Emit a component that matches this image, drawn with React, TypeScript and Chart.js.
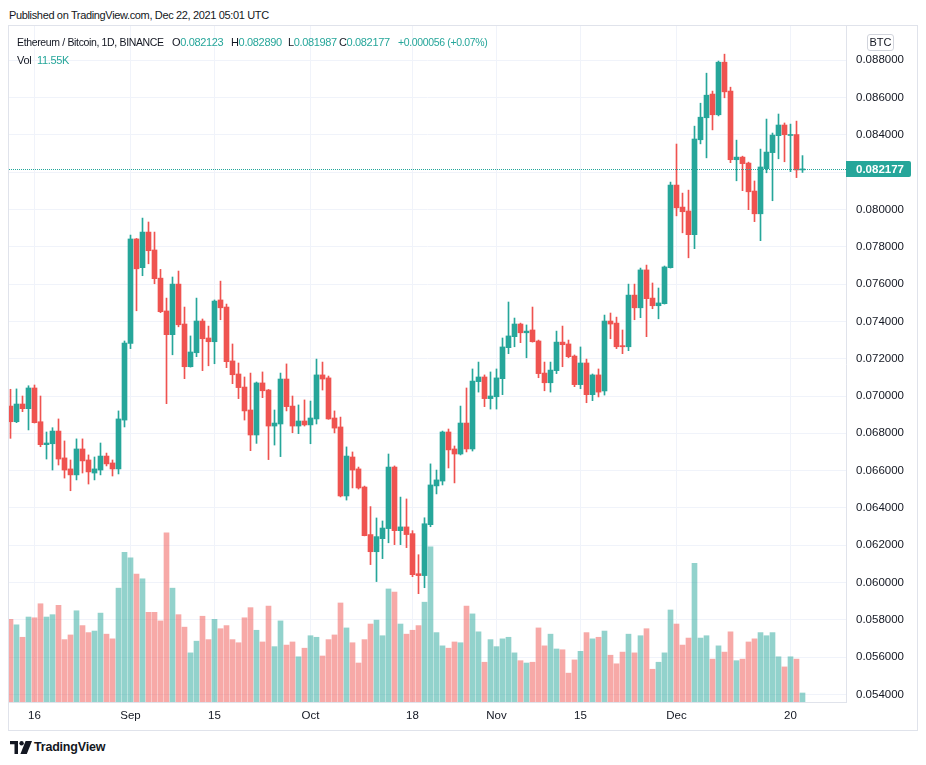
import React, { useEffect, useRef } from "react";
import { Chart, registerables } from "chart.js";
Chart.register(...registerables);

// ETH/BTC daily candles, 2021-08-12 .. 2021-12-22 (Binance)
const START_DATE = "2021-08-12";

const opens = [
  0.06946, 0.06862, 0.06957, 0.06932, 0.07043, 0.06862, 0.06739, 0.06744, 0.06812, 0.06668,
  0.06609, 0.06577, 0.06716, 0.06657, 0.06587, 0.06603, 0.06678, 0.06641, 0.06609, 0.06871,
  0.07282, 0.07842, 0.07688, 0.07879, 0.07783, 0.07632, 0.07456, 0.07329, 0.07600, 0.07386,
  0.07157, 0.07232, 0.07402, 0.07311, 0.07291, 0.07515, 0.07477, 0.07188, 0.07118, 0.07048,
  0.06925, 0.06791, 0.07070, 0.07032, 0.06839, 0.06850, 0.07091, 0.06946, 0.06839, 0.06866,
  0.06845, 0.06877, 0.07113, 0.07097, 0.06882, 0.06834, 0.06464, 0.06673, 0.06609, 0.06512,
  0.06257, 0.06165, 0.06235, 0.06289, 0.06619, 0.06278, 0.06298, 0.06262, 0.06047, 0.06037,
  0.06310, 0.06518, 0.06544, 0.06807, 0.06716, 0.06689, 0.06855, 0.06716, 0.07077, 0.07102,
  0.06986, 0.06996, 0.07093, 0.07259, 0.07318, 0.07386, 0.07339, 0.07354, 0.07295, 0.07123,
  0.07071, 0.07136, 0.07289, 0.07279, 0.07214, 0.07061, 0.07177, 0.07007, 0.07113, 0.07027,
  0.07402, 0.07391, 0.07270, 0.07264, 0.07541, 0.07473, 0.07676, 0.07525, 0.07484, 0.07495,
  0.07688, 0.08131, 0.08013, 0.07992, 0.07865, 0.08374, 0.08492, 0.08619, 0.08508, 0.08790,
  0.08635, 0.08267, 0.08281, 0.08249, 0.08099, 0.07977, 0.08219, 0.08305, 0.08396, 0.08453,
  0.08397, 0.08402, 0.082123,
];

const highs = [
  0.07036, 0.07038, 0.07000, 0.07055, 0.07059, 0.07000, 0.06807, 0.06830, 0.06877, 0.06759,
  0.06657, 0.06770, 0.06770, 0.06684, 0.06673, 0.06748, 0.06694, 0.06657, 0.06920, 0.07295,
  0.07863, 0.07845, 0.07954, 0.07933, 0.07879, 0.07679, 0.07525, 0.07638, 0.07670, 0.07477,
  0.07322, 0.07525, 0.07413, 0.07375, 0.07515, 0.07616, 0.07493, 0.07279, 0.07177, 0.07102,
  0.07123, 0.07075, 0.07129, 0.07035, 0.06925, 0.07123, 0.07172, 0.07000, 0.06952, 0.06979,
  0.06973, 0.07198, 0.07182, 0.07107, 0.06920, 0.06887, 0.06727, 0.06700, 0.06619, 0.06517,
  0.06407, 0.06346, 0.06330, 0.06689, 0.06625, 0.06458, 0.06448, 0.06278, 0.06149, 0.06347,
  0.06636, 0.06603, 0.06812, 0.06823, 0.06732, 0.06946, 0.07043, 0.07145, 0.07182, 0.07113,
  0.07129, 0.07145, 0.07311, 0.07504, 0.07418, 0.07391, 0.07381, 0.07477, 0.07300, 0.07182,
  0.07182, 0.07348, 0.07375, 0.07300, 0.07220, 0.07263, 0.07198, 0.07118, 0.07145, 0.07434,
  0.07445, 0.07423, 0.07354, 0.07600, 0.07600, 0.07686, 0.07702, 0.07606, 0.07579, 0.07697,
  0.08147, 0.08351, 0.08088, 0.08104, 0.08447, 0.08570, 0.08731, 0.08635, 0.08796, 0.08833,
  0.08656, 0.08372, 0.08286, 0.08254, 0.08153, 0.08324, 0.08485, 0.08410, 0.08512, 0.08464,
  0.08458, 0.08474, 0.08289,
];

const lows = [
  0.06773, 0.06857, 0.06916, 0.06818, 0.06855, 0.06728, 0.06662, 0.06603, 0.06630, 0.06560,
  0.06492, 0.06550, 0.06587, 0.06528, 0.06550, 0.06577, 0.06625, 0.06571, 0.06582, 0.06834,
  0.07254, 0.07457, 0.07645, 0.07709, 0.07602, 0.07447, 0.06959, 0.07221, 0.07371, 0.07093,
  0.07155, 0.07211, 0.07136, 0.07162, 0.07173, 0.07409, 0.07152, 0.07066, 0.06986, 0.06871,
  0.06707, 0.06746, 0.06991, 0.06659, 0.06737, 0.06675, 0.06920, 0.06803, 0.06798, 0.06839,
  0.06744, 0.06850, 0.07032, 0.06875, 0.06802, 0.06459, 0.06442, 0.06507, 0.06501, 0.06250,
  0.06096, 0.06005, 0.06128, 0.06213, 0.06203, 0.06203, 0.06187, 0.06031, 0.05940, 0.05972,
  0.06299, 0.06475, 0.06523, 0.06614, 0.06534, 0.06684, 0.06700, 0.06705, 0.07021, 0.06943,
  0.06930, 0.06930, 0.07007, 0.07227, 0.07264, 0.07286, 0.07205, 0.07289, 0.07098, 0.07028,
  0.07021, 0.07120, 0.07157, 0.07205, 0.07050, 0.07039, 0.06964, 0.06975, 0.06995, 0.07005,
  0.07307, 0.07254, 0.07227, 0.07243, 0.07409, 0.07420, 0.07318, 0.07468, 0.07414, 0.07493,
  0.07686, 0.07966, 0.07875, 0.07741, 0.07790, 0.08352, 0.08277, 0.08427, 0.08502, 0.08599,
  0.08251, 0.08154, 0.08101, 0.07999, 0.07935, 0.07833, 0.08197, 0.08047, 0.08272, 0.08256,
  0.08203, 0.08171, 0.081987,
];

const closes = [
  0.06862, 0.06957, 0.06932, 0.07043, 0.06857, 0.06739, 0.06748, 0.06812, 0.06662, 0.06603,
  0.06577, 0.06716, 0.06652, 0.06593, 0.06609, 0.06678, 0.06636, 0.06609, 0.06877, 0.07284,
  0.07842, 0.07682, 0.07879, 0.07779, 0.07629, 0.07452, 0.07329, 0.07600, 0.07382, 0.07157,
  0.07236, 0.07402, 0.07307, 0.07291, 0.07509, 0.07473, 0.07184, 0.07114, 0.07045, 0.06920,
  0.06791, 0.07070, 0.07028, 0.06839, 0.06855, 0.07091, 0.06943, 0.06839, 0.06866, 0.06845,
  0.06882, 0.07113, 0.07091, 0.06877, 0.06828, 0.06464, 0.06678, 0.06603, 0.06507, 0.06251,
  0.06165, 0.06246, 0.06292, 0.06619, 0.06278, 0.06298, 0.06257, 0.06042, 0.06037, 0.06315,
  0.06523, 0.06550, 0.06807, 0.06711, 0.06689, 0.06855, 0.06716, 0.07080, 0.07102, 0.06986,
  0.07000, 0.07097, 0.07263, 0.07322, 0.07386, 0.07339, 0.07348, 0.07291, 0.07120, 0.07071,
  0.07139, 0.07289, 0.07275, 0.07211, 0.07061, 0.07177, 0.07007, 0.07113, 0.07021, 0.07402,
  0.07386, 0.07264, 0.07264, 0.07541, 0.07473, 0.07676, 0.07522, 0.07484, 0.07499, 0.07692,
  0.08131, 0.08009, 0.07988, 0.07865, 0.08378, 0.08495, 0.08613, 0.08508, 0.08790, 0.08631,
  0.08267, 0.08281, 0.08246, 0.08095, 0.07977, 0.08228, 0.08308, 0.08399, 0.08453, 0.08401,
  0.08402, 0.08212, 0.082177,
];

// volume, thousands of ETH
const volumesK = [
  106, 99, 83, 109, 108, 126, 109, 112, 124, 80,
  86, 117, 98, 89, 91, 114, 87, 81, 146, 192,
  185, 164, 158, 115, 115, 104, 217, 146, 112, 96,
  63, 78, 110, 80, 106, 94, 98, 80, 76, 108,
  121, 92, 77, 123, 71, 104, 73, 77, 58, 69,
  85, 83, 59, 80, 86, 127, 95, 76, 50, 80,
  100, 105, 85, 145, 141, 100, 87, 92, 98, 128,
  199, 89, 72, 69, 77, 76, 123, 113, 90, 51,
  80, 71, 81, 83, 63, 53, 50, 51, 95, 72,
  87, 68, 67, 37, 54, 65, 89, 81, 83, 91,
  60, 49, 64, 87, 63, 85, 94, 42, 51, 63,
  118, 100, 73, 82, 178, 82, 85, 55, 72, 64,
  90, 53, 55, 77, 81, 89, 85, 89, 58, 45,
  58, 55, 11.55,
];

const tickDates = [
  "2021-08-16", "2021-09-01", "2021-09-15", "2021-10-01", "2021-10-18",
  "2021-11-01", "2021-11-15", "2021-12-01", "2021-12-20",
];
const tickLabels = ["16", "Sep", "15", "Oct", "18", "Nov", "15", "Dec", "20"];

const priceTicks = [
  0.054, 0.056, 0.058, 0.06, 0.062, 0.064, 0.066, 0.068, 0.07, 0.072,
  0.074, 0.076, 0.078, 0.08, 0.082, 0.084, 0.086, 0.088,
];

const lastPrice = 0.082177;
const priceMin = 0.053592;
const priceMax = 0.08984;
const xMin = -0.25;
const xMax = 139.25;
const volMax = 867;

const UP = "#26a69a";
const DOWN = "#ef5350";
const UP_VOL = "rgba(38,166,154,0.5)";
const DOWN_VOL = "rgba(239,83,80,0.5)";
const TEXT = "#131722";
const FONT = "'Liberation Sans', Arial, sans-serif";

function dayIndex(d: string): number {
  const a = new Date(d + "T00:00:00Z").getTime();
  const b = new Date(START_DATE + "T00:00:00Z").getTime();
  return Math.round((a - b) / 86400000);
}

const lastPricePlugin = {
  id: "lastPriceLine",
  afterDatasetsDraw(chart: any) {
    const { ctx, chartArea, scales } = chart;
    const y = Math.round(scales.y.getPixelForValue(lastPrice)) + 0.5;
    ctx.save();
    ctx.strokeStyle = UP;
    ctx.lineWidth = 1;
    ctx.setLineDash([1, 1]);
    ctx.beginPath();
    ctx.moveTo(chartArea.left, y);
    ctx.lineTo(chartArea.right, y);
    ctx.stroke();
    ctx.restore();
  },
  afterDraw(chart: any) {
    const { ctx, chartArea, scales } = chart;
    const y = Math.round(scales.y.getPixelForValue(lastPrice));
    const x = chartArea.right;
    ctx.save();
    ctx.fillStyle = UP;
    ctx.beginPath();
    if (ctx.roundRect) ctx.roundRect(x, y - 8, 65, 16, [0, 2, 2, 0]);
    else ctx.rect(x, y - 8, 65, 16);
    ctx.fill();
    ctx.fillStyle = "#ffffff";
    ctx.font = `bold 11.5px ${FONT}`;
    ctx.textBaseline = "middle";
    ctx.textAlign = "left";
    ctx.fillText(lastPrice.toFixed(6), x + 10, y + 1);
    ctx.restore();
  },
};

function CandleChart() {
  const ref = useRef<HTMLCanvasElement | null>(null);
  useEffect(() => {
    if (!ref.current) return;
    const idx = opens.map((_, i) => i);
    const up = idx.map((i) => closes[i] >= opens[i]);
    const tickIdx = tickDates.map(dayIndex);
    const chart = new Chart(ref.current, {
      type: "bar",
      data: {
        datasets: [
          {
            label: "body",
            data: idx.map((i) => ({ x: i, y: [opens[i], closes[i]] })),
            backgroundColor: up.map((u) => (u ? UP : DOWN)),
            barThickness: 5,
            grouped: false,
            minBarLength: 1,
            borderWidth: 0,
            yAxisID: "y",
            order: 1,
          },
          {
            label: "wick",
            data: idx.map((i) => ({ x: i, y: [lows[i], highs[i]] })),
            backgroundColor: up.map((u) => (u ? UP : DOWN)),
            barThickness: 1,
            grouped: false,
            borderWidth: 0,
            yAxisID: "y",
            order: 2,
          },
          {
            label: "volume",
            data: idx.map((i) => ({ x: i, y: volumesK[i] })),
            backgroundColor: up.map((u) => (u ? UP_VOL : DOWN_VOL)),
            barThickness: 5,
            grouped: false,
            borderWidth: 0,
            yAxisID: "yv",
            order: 3,
          },
        ] as any,
      },
      options: {
        animation: false,
        responsive: false,
        devicePixelRatio: 1,
        layout: { padding: 0, autoPadding: false } as any,
        plugins: { legend: { display: false }, tooltip: { enabled: false } },
        scales: {
          x: {
            type: "linear",
            min: xMin,
            max: xMax,
            offset: false,
            afterBuildTicks: (s: any) => {
              s.ticks = tickIdx.map((v) => ({ value: v }));
            },
            afterFit: (s: any) => {
              s.height = 28;
              s.paddingLeft = 0;
              s.paddingRight = 0;
            },
            ticks: {
              autoSkip: false,
              maxRotation: 0,
              padding: 7,
              color: TEXT,
              font: { family: FONT, size: 11.5 },
              callback: (_v: any, i: number) => tickLabels[i] ?? "",
            },
            grid: { color: "#f0f3fa", drawTicks: false, offset: false },
            border: { display: true, color: "#e0e3eb" },
          },
          y: {
            type: "linear",
            position: "right",
            min: priceMin,
            max: priceMax,
            afterBuildTicks: (s: any) => {
              s.ticks = priceTicks.map((v) => ({ value: v }));
            },
            afterFit: (s: any) => {
              s.width = 71;
              s.paddingTop = 0;
              s.paddingBottom = 0;
            },
            ticks: {
              padding: 10,
              color: TEXT,
              font: { family: FONT, size: 11.5 },
              callback: (v: any) => Number(v).toFixed(6),
            },
            grid: { color: "#f0f3fa", drawTicks: false },
            border: { display: true, color: "#e0e3eb" },
          },
          yv: {
            type: "linear",
            display: false,
            min: 0,
            max: volMax,
          },
        } as any,
      },
      plugins: [lastPricePlugin],
    });
    return () => chart.destroy();
  }, []);
  return (
    <canvas
      ref={ref}
      width={908}
      height={704}
      style={{ position: "absolute", left: 9, top: 26, width: 908, height: 704 }}
    />
  );
}

function TVLogo() {
  return (
    <svg width="22" height="13" viewBox="0 0 22 13" style={{ position: "absolute", left: 10, top: 741 }}>
      <path d="M0 0 H8 V13 H4.5 V3.2 H0 Z" fill={TEXT} />
      <circle cx="11.6" cy="2.2" r="2.2" fill={TEXT} />
      <path d="M15.6 0 H22 L16.8 13 H10.4 Z" fill={TEXT} />
    </svg>
  );
}

export default function App() {
  const abs = (left: number, top: number, extra: any = {}) => ({
    position: "absolute" as const,
    left,
    top,
    whiteSpace: "nowrap" as const,
    lineHeight: "14px",
    ...extra,
  });
  const legendFont = { fontSize: 11, letterSpacing: "-0.35px", color: TEXT };
  const titleFont = { fontSize: 10.5, letterSpacing: "-0.35px", color: TEXT };
  const changeFont = { fontSize: 10.5, letterSpacing: "-0.35px", color: UP };
  return (
    <div
      style={{
        position: "fixed",
        left: 0,
        top: 0,
        width: 926,
        height: 765,
        background: "#ffffff",
        overflow: "hidden",
        fontFamily: FONT,
      }}
    >
      <div style={abs(9, 8, { fontSize: 11, color: TEXT, letterSpacing: "-0.35px" })}>
        Published on TradingView.com, Dec 22, 2021 05:01 UTC
      </div>
      <div
        style={{
          position: "absolute",
          left: 8,
          top: 25,
          width: 910,
          height: 706,
          border: "1px solid #e0e3eb",
          boxSizing: "border-box",
        }}
      />
      <CandleChart />
      <div style={abs(17, 35, titleFont)}>Ethereum / Bitcoin, 1D, BINANCE</div>
      <div style={abs(172, 35, legendFont)}>
        O<span style={{ color: UP }}>0.082123</span>
      </div>
      <div style={abs(231, 35, legendFont)}>
        H<span style={{ color: UP }}>0.082890</span>
      </div>
      <div style={abs(288, 35, legendFont)}>
        L<span style={{ color: UP }}>0.081987</span>
      </div>
      <div style={abs(339, 35, legendFont)}>
        C<span style={{ color: UP }}>0.082177</span>
      </div>
      <div style={abs(398, 35, changeFont)}>+0.000056 (+0.07%)</div>
      <div style={abs(17, 53, legendFont)}>Vol</div>
      <div style={abs(37, 53, { ...legendFont, color: UP })}>11.55K</div>
      <div
        style={{
          position: "absolute",
          left: 867,
          top: 34,
          width: 27,
          height: 17,
          border: "1px solid #d1d4dc",
          borderRadius: 3,
          boxSizing: "border-box",
          fontSize: 11,
          color: TEXT,
          textAlign: "center",
          lineHeight: "15px",
          background: "#fff",
        }}
      >
        BTC
      </div>
      <TVLogo />
      <div style={abs(34, 740, { fontSize: 12.5, fontWeight: 700, color: TEXT, letterSpacing: "-0.2px" })}>
        TradingView
      </div>
    </div>
  );
}
